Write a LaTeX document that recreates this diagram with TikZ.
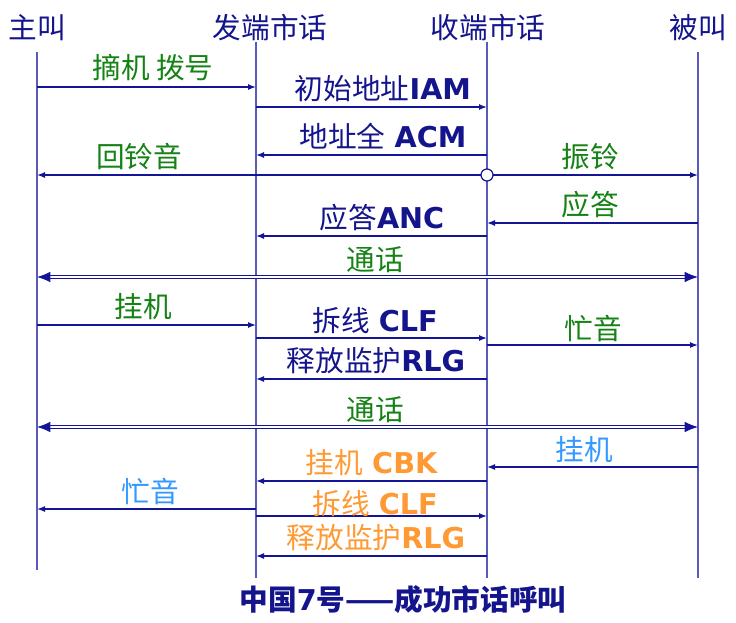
\documentclass[tikz,border=0pt]{standalone}
\usepackage{fontspec}
\setmainfont{DejaVu Sans}
\newfontfamily\cjk{Noto Sans CJK SC}
\usetikzlibrary{arrows.meta}
\definecolor{navytext}{RGB}{20,20,140}
\definecolor{lifecol}{RGB}{90,90,190}
\definecolor{msgcol}{RGB}{20,20,150}
\definecolor{greentext}{RGB}{20,130,20}
\definecolor{orangetext}{RGB}{255,153,51}
\definecolor{bluetext}{RGB}{51,153,255}
\newcommand\zw[1]{{\cjk #1}}
\newcommand\en[1]{\textbf{#1}}
\tikzset{
    every node/.style={inner sep=0, font=\fontsize{21.5}{24}\selectfont},
    life/.style={lifecol, line width=1.1pt},
    msg/.style={msgcol, line width=1pt, -{Latex[length=6pt, width=4.5pt]}},
    call/.style={msgcol, double, double distance=1.6pt, line width=0.8pt,
        {Latex[length=10pt, width=8pt]}-{Latex[length=10pt, width=8pt]}},
    head/.style={navytext},
    sig/.style={navytext},
    act/.style={greentext},
    rel/.style={orangetext},
    hang/.style={bluetext}
}
\begin{document}
\begin{tikzpicture}[x=0.75pt, y=-0.75pt]
    \useasboundingbox (0,0) rectangle (736,622);

    \node[head] (zj) at (37,28)  {\zw{主叫}};
    \node[head] (fd) at (270,28) {\zw{发端市话}};
    \node[head] (sd) at (488,28) {\zw{收端市话}};
    \node[head] (bj) at (698,28) {\zw{被叫}};

    \coordinate (zjtop) at (37,52);  \coordinate (zjbot) at (37,570);
    \coordinate (fdtop) at (256,42); \coordinate (fdbot) at (256,578);
    \coordinate (sdtop) at (487,42); \coordinate (sdbot) at (487,578);
    \coordinate (bjtop) at (698,52); \coordinate (bjbot) at (698,578);
    \foreach \p in {zj, fd, sd, bj}
        \draw[life] (\p top) -- (\p bot);

    \foreach \r/\y in {1/87, 2/107, 3/155, 4/175, 5/223, 6/236, 7/277, 8/325, 9/338,
                       10/345, 11/379, 12/427, 13/467, 14/481, 15/509, 16/516, 17/556} {
        \coordinate (zj\r) at (37,\y);
        \coordinate (fd\r) at (256,\y);
        \coordinate (sd\r) at (487,\y);
        \coordinate (bj\r) at (698,\y);
    }

    \foreach \a/\b in {zj1/fd1, fd2/sd2, sd3/fd3, sd4/zj4, sd4/bj4, bj5/sd5, sd6/fd6,
                       zj8/fd8, fd9/sd9, sd10/bj10, sd11/fd11, bj13/sd13, sd14/fd14,
                       fd15/zj15, fd16/sd16, sd17/fd17}
        \draw[msg] (\a) -- (\b);

    \draw[call] (zj7) -- (bj7);
    \draw[call] (zj12) -- (bj12);

    \node[circle, draw=msgcol, fill=white, line width=0.9pt, minimum size=9pt] (ring) at (sd4) {};

    \node[act] (l1)  at (153,68)  {\zw{摘机 拨号}};
    \node[sig] (l2)  at (383,89)  {\zw{初始地址}\en{IAM}};
    \node[sig] (l3)  at (383,136) {\zw{地址全} \en{ACM}};
    \node[act] (l4)  at (139,157) {\zw{回铃音}};
    \node[act] (l4b) at (590,157) {\zw{振铃}};
    \node[act] (l5)  at (590,205) {\zw{应答}};
    \node[sig] (l6)  at (382,218) {\zw{应答}\en{ANC}};
    \node[act] (l7)  at (375,260) {\zw{通话}};
    \node[act] (l8)  at (143,307) {\zw{挂机}};
    \node[sig] (l9)  at (375,321) {\zw{拆线} \en{CLF}};
    \node[act] (l10) at (593,328) {\zw{忙音}};
    \node[sig] (l11) at (376,361) {\zw{释放监护}\en{RLG}};
    \node[act] (l12) at (375,410) {\zw{通话}};
    \node[hang] (l13) at (584,450) {\zw{挂机}};
    \node[rel] (l14) at (372,463) {\zw{挂机} \en{CBK}};
    \node[hang] (l15) at (150,491) {\zw{忙音}};
    \node[rel] (l16) at (375,504) {\zw{拆线} \en{CLF}};
    \node[rel] (l17) at (376,538) {\zw{释放监护}\en{RLG}};

    \node[navytext, font=\fontsize{21.5}{24}\selectfont\bfseries] (title) at (403,600)
        {\zw{中国}7\zw{号——成功市话呼叫}};
\end{tikzpicture}
\end{document}
